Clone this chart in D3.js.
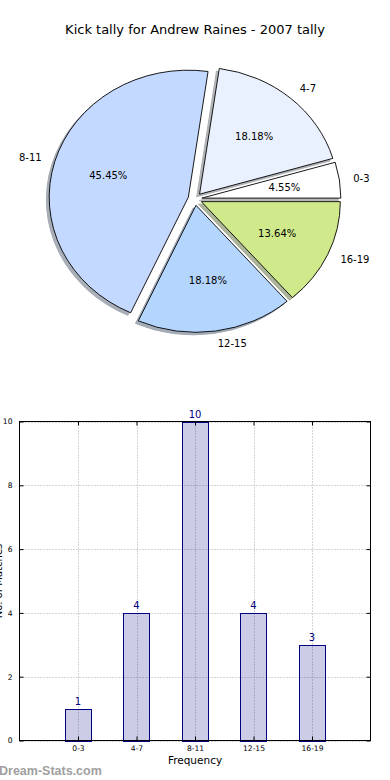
<!DOCTYPE html>
<html>
<head>
<meta charset="utf-8">
<script src="https://cdn.jsdelivr.net/npm/d3@7"></script>
<style>
  body { margin: 0; background: #fff; }
  svg { display: block; font-family: "DejaVu Sans", sans-serif; }
</style>
</head>
<body>
<svg id="chart" width="390" height="780"></svg>
<script>
// data
const categories = ["0-3", "4-7", "8-11", "12-15", "16-19"];
const kicks = [1, 4, 10, 4, 3];
const yTicks = [0, 2, 4, 6, 8, 10];
const title = "Kick tally for Andrew Raines - 2007 tally";

const sliceColors = ["#ffffff", "#eaf1fe", "#c4d9ff", "#b4d5fe", "#d0ea8b"];

const svg = d3.select("#chart");

// ---- pie (matplotlib style: starts at 3 o'clock, counter clockwise, stretched) ----
const PIE = { cx: 195, cy: 199, sx: 139, sy: 127, explode: 0.05, shadow: 0.02 };

svg.append("text")
    .attr("x", 195)
    .attr("y", 34)
    .attr("text-anchor", "middle")
    .attr("font-size", "13px")
    .attr("fill", "#000")
    .text(title);

const pie = d3.pie()
    .value(d => d)
    .sort(null)
    .startAngle(Math.PI / 2)
    .endAngle(Math.PI / 2 - 2 * Math.PI);

const arcs = pie(kicks);
const total = d3.sum(kicks);
const arc = d3.arc().innerRadius(0).outerRadius(1);

const midOf = d => (d.startAngle + d.endAngle) / 2;
const offX = d => PIE.explode * Math.sin(midOf(d));
const offY = d => -PIE.explode * Math.cos(midOf(d));

const pieG = svg.append("g")
    .attr("transform", `translate(${PIE.cx},${PIE.cy}) scale(${PIE.sx},${PIE.sy})`);

// shadows first, below every wedge
pieG.selectAll("path.shadow")
    .data(arcs)
    .enter().append("path")
    .attr("class", "shadow")
    .attr("d", arc)
    .attr("transform", d => `translate(${offX(d) - PIE.shadow},${offY(d) + PIE.shadow})`)
    .attr("fill", (d, i) => d3.rgb(sliceColors[i]).darker(1.9))
    .attr("stroke", (d, i) => d3.rgb(sliceColors[i]).darker(2.2))
    .attr("vector-effect", "non-scaling-stroke")
    .attr("stroke-width", 1)
    .attr("opacity", 0.55);

pieG.selectAll("path.slice")
    .data(arcs)
    .enter().append("path")
    .attr("class", "slice")
    .attr("d", arc)
    .attr("transform", d => `translate(${offX(d)},${offY(d)})`)
    .attr("fill", (d, i) => sliceColors[i])
    .attr("stroke", "#000")
    .attr("stroke-width", 0.9)
    .attr("vector-effect", "non-scaling-stroke");

// category labels at 1.1 radius
svg.selectAll("text.plabel")
    .data(arcs)
    .enter().append("text")
    .attr("class", "plabel")
    .attr("x", d => PIE.cx + PIE.sx * (offX(d) + 1.1 * Math.sin(midOf(d))))
    .attr("y", d => PIE.cy + PIE.sy * (offY(d) - 1.1 * Math.cos(midOf(d))))
    .attr("dy", "0.35em")
    .attr("text-anchor", d => Math.sin(midOf(d)) > 0 ? "start" : "end")
    .attr("font-size", "10px")
    .text((d, i) => categories[i]);

// percentages at 0.6 radius
svg.selectAll("text.pct")
    .data(arcs)
    .enter().append("text")
    .attr("class", "pct")
    .attr("x", d => PIE.cx + PIE.sx * (offX(d) + 0.6 * Math.sin(midOf(d))))
    .attr("y", d => PIE.cy + PIE.sy * (offY(d) - 0.6 * Math.cos(midOf(d))))
    .attr("dy", "0.35em")
    .attr("text-anchor", "middle")
    .attr("font-size", "10px")
    .text(d => (d.value * 100 / total).toFixed(2) + "%");

// ---- bar chart ----
const B = { left: 19.5, right: 370.5, top: 421.5, bottom: 740.5 };

const x = d3.scaleLinear().domain([-1, categories.length]).range([B.left, B.right]);
const y = d3.scaleLinear().domain([0, 10]).range([B.bottom, B.top]);
const barW = x(0.45) - x(0);

const bar = svg.append("g");

// dotted grid
bar.selectAll("line.hgrid")
    .data(yTicks)
    .enter().append("line")
    .attr("x1", B.left).attr("x2", B.right)
    .attr("y1", d => Math.round(y(d)) + 0.5).attr("y2", d => Math.round(y(d)) + 0.5)
    .attr("stroke", "#aaaaaa")
    .attr("stroke-dasharray", "1,2");

bar.selectAll("line.vgrid")
    .data(categories)
    .enter().append("line")
    .attr("x1", (d, i) => Math.round(x(i)) + 0.5).attr("x2", (d, i) => Math.round(x(i)) + 0.5)
    .attr("y1", B.top).attr("y2", B.bottom)
    .attr("stroke", "#aaaaaa")
    .attr("stroke-dasharray", "1,2");

bar.selectAll("rect.bar")
    .data(kicks)
    .enter().append("rect")
    .attr("class", "bar")
    .attr("x", (d, i) => Math.round(x(i) - barW / 2) + 0.5)
    .attr("y", d => Math.round(y(d)) + 0.5)
    .attr("width", Math.round(barW))
    .attr("height", d => Math.round(y(0)) - Math.round(y(d)))
    .attr("fill", "rgba(0,0,128,0.2)")
    .attr("stroke", "#000080")
    .attr("stroke-width", 1);

bar.selectAll("text.val")
    .data(kicks)
    .enter().append("text")
    .attr("class", "val")
    .attr("x", (d, i) => x(i))
    .attr("y", d => y(d) - 4)
    .attr("text-anchor", "middle")
    .attr("font-size", "10px")
    .attr("fill", "#000080")
    .text(d => d);

// axes with inward ticks on all four sides
const styleAxis = g => {
    g.select(".domain").remove();
    g.selectAll(".tick line").attr("stroke", "#000");
    g.selectAll(".tick text").attr("font-size", "7.6px").attr("font-family", "DejaVu Sans, sans-serif").attr("fill", "#000");
};

bar.append("g")
    .attr("transform", `translate(${B.left},0)`)
    .call(d3.axisLeft(y).tickValues(yTicks).tickSize(-4).tickPadding(7))
    .call(styleAxis);

bar.append("g")
    .attr("transform", `translate(${B.right},0)`)
    .call(d3.axisRight(y).tickValues(yTicks).tickSize(-4).tickFormat(""))
    .call(styleAxis);

bar.append("g")
    .attr("transform", `translate(0,${B.bottom})`)
    .call(d3.axisBottom(x).tickValues(d3.range(categories.length)).tickFormat(i => categories[i]).tickSize(-4).tickPadding(5))
    .call(styleAxis);

bar.append("g")
    .attr("transform", `translate(0,${B.top})`)
    .call(d3.axisTop(x).tickValues(d3.range(categories.length)).tickSize(-4).tickFormat(""))
    .call(styleAxis);

bar.append("rect")
    .attr("x", B.left).attr("y", B.top)
    .attr("width", B.right - B.left).attr("height", B.bottom - B.top)
    .attr("fill", "none")
    .attr("stroke", "#000")
    .attr("stroke-width", 1);

bar.append("text")
    .attr("x", (B.left + B.right) / 2)
    .attr("y", 764)
    .attr("text-anchor", "middle")
    .attr("font-size", "10.5px")
    .text("Frequency");

// y label, mostly outside the picture on the left (as in the reference)
bar.append("text")
    .attr("transform", `translate(1.5,${(B.top + B.bottom) / 2}) rotate(-90)`)
    .attr("text-anchor", "middle")
    .attr("font-size", "10px")
    .text("No. of Matches");

// watermark
svg.append("text")
    .attr("x", -1)
    .attr("y", 775)
    .attr("font-family", "Liberation Sans, Arial, sans-serif")
    .attr("font-weight", "bold")
    .attr("font-size", "12.5px")
    .attr("fill", "#a0a0a0")
    .text("Dream-Stats.com");
</script>
</body>
</html>
